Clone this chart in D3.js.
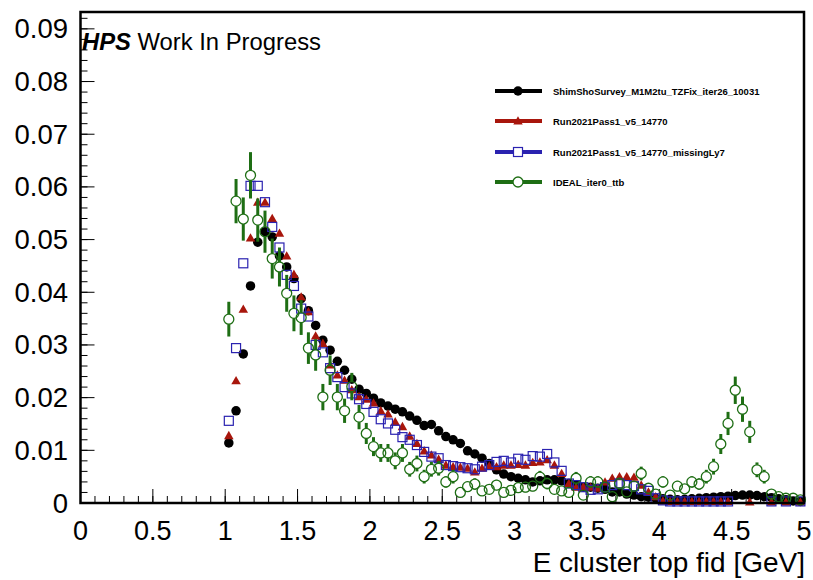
<!DOCTYPE html>
<html><head><meta charset="utf-8">
<script src="https://cdn.jsdelivr.net/npm/d3@7"></script>
<style>body{margin:0;background:#fff}svg{display:block}text{font-family:"Liberation Sans",Arial,Helvetica,sans-serif}</style>
</head><body><svg id="c" width="813" height="580"></svg>
<script>
const energy = [1.025,1.075,1.125,1.175,1.225,1.275,1.325,1.375,1.425,1.475,1.525,1.575,1.625,1.675,1.725,1.775,1.825,1.875,1.925,1.975,
2.025,2.075,2.125,2.175,2.225,2.275,2.325,2.375,2.425,2.475,2.525,2.575,2.625,2.675,2.725,2.775,2.825,2.875,2.925,2.975,
3.025,3.075,3.125,3.175,3.225,3.275,3.325,3.375,3.425,3.475,3.525,3.575,3.625,3.675,3.725,3.775,3.825,3.875,3.925,3.975,
4.025,4.075,4.125,4.175,4.225,4.275,4.325,4.375,4.425,4.475,4.525,4.575,4.625,4.675,4.725,4.775,4.825,4.875,4.925,4.975];

const shimSho = [0.0114,0.0175,0.0283,0.0412,0.0495,0.0515,0.0505,0.0469,0.0448,0.0426,0.0388,0.0365,0.0337,0.0309,0.0290,0.0269,0.0252,0.0235,0.0216,0.0208,
0.0199,0.0190,0.0184,0.0178,0.0173,0.0165,0.0157,0.0147,0.0149,0.0137,0.0126,0.0120,0.0113,0.0099,0.0093,0.0085,0.0075,0.0063,0.0055,0.0050,
0.0047,0.0044,0.0040,0.0042,0.0044,0.0044,0.0042,0.0037,0.0034,0.0030,0.0030,0.0028,0.0026,0.0021,0.0021,0.0017,0.0015,0.0012,0.0011,0.0009,
0.0008,0.0007,0.0006,0.0007,0.0008,0.0009,0.0010,0.0011,0.0012,0.0013,0.0014,0.0015,0.0015,0.0014,0.0012,0.0010,0.0008,0.0006,0.0004,0.0003];

const run2021 = [0.0128,0.0232,0.0368,0.0503,0.0571,0.0571,0.0540,0.0512,0.0469,0.0434,0.0391,0.0363,0.0317,0.0303,0.0262,0.0243,0.0233,0.0215,0.0202,0.0197,
0.0190,0.0175,0.0169,0.0154,0.0145,0.0127,0.0113,0.0099,0.0091,0.0083,0.0072,0.0069,0.0068,0.0066,0.0059,0.0066,0.0070,0.0069,0.0072,0.0072,
0.0073,0.0072,0.0077,0.0078,0.0082,0.0072,0.0056,0.0037,0.0030,0.0031,0.0030,0.0028,0.0040,0.0047,0.0050,0.0050,0.0049,0.0034,0.0021,0.0012,
0.0004,0.0003,0.0003,0.0003,0.0003,0.0003,0.0003,0.0003,0.0003,0.0003,0,0,0.0002,0,0,0.0002,0,0.0002,0,0.0002];

const run2021Ly7 = [0.0156,0.0294,0.0455,0.0602,0.0602,0.0571,0.0524,0.0485,0.0433,0.0412,0.0369,0.0354,0.0300,0.0286,0.0256,0.0239,0.0220,0.0208,0.0197,0.0188,
0.0173,0.0159,0.0151,0.0139,0.0125,0.0120,0.0110,0.0097,0.0088,0.0085,0.0072,0.0070,0.0068,0.0066,0.0064,0.0069,0.0072,0.0078,0.0080,0.0077,
0.0084,0.0082,0.0089,0.0088,0.0093,0.0077,0.0061,0.0037,0.0034,0.0030,0.0025,0.0026,0.0030,0.0034,0.0037,0.0034,0.0032,0.0026,0.0023,0.0009,
0.0005,0.0003,0.0003,0.0003,0.0003,0.0003,0.0003,0.0003,0.0003,0.0003,0,0,0,0,0,0.0003,0,0.0003,0,0.0003];

const ideal = [0.0349,0.0573,0.0539,0.0622,0.0537,0.0515,0.0464,0.0448,0.0398,0.0360,0.0352,0.0294,0.0281,0.0201,0.0252,0.0201,0.0175,0.0221,0.0163,0.0132,
0.0107,0.0095,0.0095,0.0080,0.0095,0.0064,0.0075,0.0050,0.0064,0.0066,0.0040,0.0050,0.0020,0.0031,0.0036,0.0023,0.0026,0.0034,0.0020,0.0024,
0.0029,0.0030,0.0032,0.0049,0.0037,0.0026,0.0023,0.0020,0.0047,0.0015,0.0040,0.0040,0.0030,0.0012,0.0037,0.0021,0.0032,0.0056,0.0028,0.0017,
0.0040,0.0015,0.0032,0.0027,0.0040,0.0036,0.0050,0.0069,0.0112,0.0151,0.0214,0.0178,0.0135,0.0063,0.0050,0.0017,0.0012,0.0009,0.0009,0.0006];

const idealErr = [0.0033,0.0042,0.0041,0.0044,0.0041,0.0040,0.0038,0.0037,0.0035,0.0034,0.0033,0.0030,0.0030,0.0025,0.0028,0.0025,0.0023,0.0026,0.0023,0.0020,
0.0018,0.0017,0.0017,0.0016,0.0017,0.0014,0.0015,0.0013,0.0014,0.0014,0.0011,0.0013,0.0008,0.0010,0.0011,0.0009,0.0009,0.0010,0.0008,0.0009,
0.0010,0.0010,0.0010,0.0012,0.0011,0.0009,0.0009,0.0008,0.0012,0.0007,0.0011,0.0011,0.0010,0.0006,0.0011,0.0008,0.0010,0.0013,0.0009,0.0007,
0.0011,0.0007,0.0010,0.0009,0.0011,0.0011,0.0013,0.0015,0.0019,0.0022,0.0026,0.0024,0.0021,0.0014,0.0013,0.0007,0.0006,0.0005,0.0005,0.0004];

const seriesNames = ["ShimShoSurvey_M1M2tu_TZFix_iter26_10031","Run2021Pass1_v5_14770","Run2021Pass1_v5_14770_missingLy7","IDEAL_iter0_ttb"];
const seriesColors = ["#000000","#a8160c","#2a22b0","#1e6e14"];
const seriesMarkers = ["circleFilled","triangleFilled","squareOpen","circleOpen"];
const xTicks = [0,0.5,1,1.5,2,2.5,3,3.5,4,4.5,5];
const xTickLabels = ["0","0.5","1","1.5","2","2.5","3","3.5","4","4.5","5"];
const yTicks = [0,0.01,0.02,0.03,0.04,0.05,0.06,0.07,0.08,0.09];
const yTickLabels = ["0","0.01","0.02","0.03","0.04","0.05","0.06","0.07","0.08","0.09"];
const xTitle = "E cluster top fid [GeV]";

const svg = d3.select("#c");
const L = 80.5, R = 804, T = 12, B = 503;
const x = d3.scaleLinear().domain([0,5]).range([L,R]);
const y = d3.scaleLinear().domain([0,0.0932]).range([B,T]);

// minor + major ticks
const xMinor = d3.range(0,5.0001,0.1);
const yMinor = d3.range(0,0.0931,0.002);
const g = svg.append("g");
g.selectAll(".xm").data(xMinor).join("line")
  .attr("x1",d=>x(d)).attr("x2",d=>x(d)).attr("y1",B).attr("y2",B-7).attr("stroke","#000").attr("stroke-width",1);
g.selectAll(".xM").data(xTicks).join("line")
  .attr("x1",d=>x(d)).attr("x2",d=>x(d)).attr("y1",B).attr("y2",B-14).attr("stroke","#000").attr("stroke-width",1);
g.selectAll(".ym").data(yMinor).join("line")
  .attr("y1",d=>y(d)).attr("y2",d=>y(d)).attr("x1",L).attr("x2",L+7).attr("stroke","#000").attr("stroke-width",1);
g.selectAll(".yM").data(yTicks).join("line")
  .attr("y1",d=>y(d)).attr("y2",d=>y(d)).attr("x1",L).attr("x2",L+14).attr("stroke","#000").attr("stroke-width",1);

// tick labels
svg.selectAll(".xl").data(xTicks).join("text")
  .attr("x",d=>x(d)).attr("y",540).attr("text-anchor","middle")
  .attr("font-size",27).text((d,i)=>xTickLabels[i]);
svg.selectAll(".yl").data(yTicks).join("text")
  .attr("x",68).attr("y",d=>y(d)+9.5).attr("text-anchor","end")
  .attr("font-size",27.5).text((d,i)=>yTickLabels[i]);
svg.append("text").attr("x",805).attr("y",572).attr("text-anchor","end").attr("font-size",28).text(xTitle);

function marker(sel, type, color, size){
  const r = size/2;
  if(type==="circleFilled") sel.append("circle").attr("r",r).attr("fill",color);
  else if(type==="circleOpen") sel.append("circle").attr("r",r).attr("fill","none").attr("stroke",color).attr("stroke-width",1.3);
  else if(type==="squareOpen") sel.append("rect").attr("x",-r).attr("y",-r).attr("width",size).attr("height",size).attr("fill","none").attr("stroke",color).attr("stroke-width",1.2);
  else if(type==="triangleFilled") sel.append("path").attr("d",`M0,${-r}L${r},${r*0.75}L${-r},${r*0.75}Z`).attr("fill",color);
}

const data = [shimSho, run2021, run2021Ly7, ideal];
const sizes = [9.5,9.5,9,10];
const plot = svg.append("g");
data.forEach((vals,si)=>{
  const pts = energy.map((e,i)=>({e, v:vals[i], err: si===3 ? idealErr[i] : 0})).filter(p=>p.v>0);
  const gs = plot.append("g");
  if(si===3){
    const r = sizes[si]/2;
    pts.forEach(p=>{
      const cx = x(p.e), cy = y(p.v);
      const top = y(p.v+p.err), bot = y(p.v-p.err);
      if(cy - top > r) gs.append("line").attr("x1",cx).attr("x2",cx).attr("y1",top).attr("y2",cy-r).attr("stroke",seriesColors[si]).attr("stroke-width",3);
      if(bot - cy > r) gs.append("line").attr("x1",cx).attr("x2",cx).attr("y1",cy+r).attr("y2",Math.min(bot,B)).attr("stroke",seriesColors[si]).attr("stroke-width",3);
    });
  }
  pts.forEach(p=>{
    const m = gs.append("g").attr("transform",`translate(${x(p.e)},${y(p.v)})`);
    marker(m, seriesMarkers[si], seriesColors[si], sizes[si]);
  });
});

// frame
svg.append("rect").attr("x",L).attr("y",T).attr("width",R-L).attr("height",B-T)
  .attr("fill","none").attr("stroke","#000").attr("stroke-width",2.5);

// legend
const legY = [91,121,152,182];
seriesNames.forEach((n,i)=>{
  svg.append("line").attr("x1",495).attr("x2",542).attr("y1",legY[i]).attr("y2",legY[i])
    .attr("stroke",seriesColors[i]).attr("stroke-width",4);
  const m = svg.append("g").attr("transform",`translate(518,${legY[i]})`);
  if(seriesMarkers[i].includes("Open")) {
    if(seriesMarkers[i]==="circleOpen") m.append("circle").attr("r",sizes[i]/2).attr("fill","#fff");
    else m.append("rect").attr("x",-sizes[i]/2).attr("y",-sizes[i]/2).attr("width",sizes[i]).attr("height",sizes[i]).attr("fill","#fff");
  }
  marker(m, seriesMarkers[i], seriesColors[i], sizes[i]);
  svg.append("text").attr("x",553).attr("y",legY[i]+3.5).attr("font-size",9.5).attr("font-weight","bold").text(n);
});

// label
const lab = svg.append("text").attr("x",82).attr("y",50).attr("font-size",23.8);
lab.append("tspan").attr("font-weight","bold").attr("font-style","italic").text("HPS");
lab.append("tspan").text(" Work In Progress");
</script></body></html>
